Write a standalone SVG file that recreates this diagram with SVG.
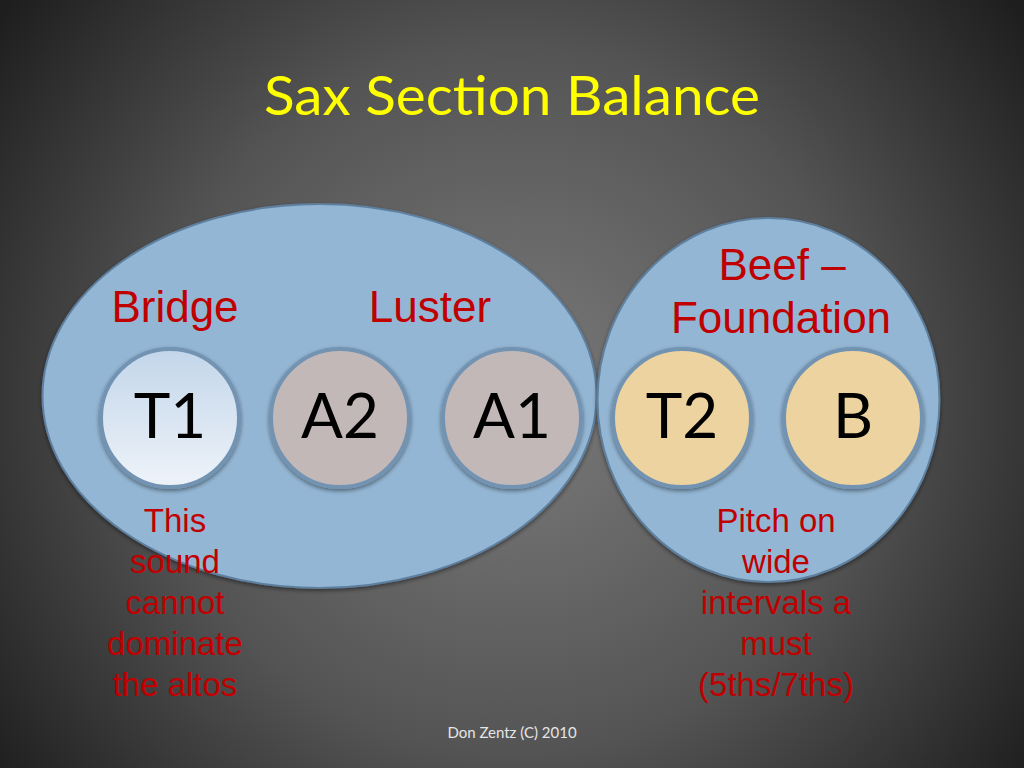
<svg xmlns="http://www.w3.org/2000/svg" width="1024" height="768" viewBox="0 0 1024 768">
  <defs>
    <radialGradient id="bg" cx="512" cy="400" r="640" gradientUnits="userSpaceOnUse">
      <stop offset="0" stop-color="#7b7b7b"/>
      <stop offset="0.55" stop-color="#545454"/>
      <stop offset="1" stop-color="#1e1e1e"/>
    </radialGradient>
    <linearGradient id="t1fill" x1="0" y1="0" x2="0" y2="1">
      <stop offset="0" stop-color="#c3d6ea"/>
      <stop offset="1" stop-color="#eef3f9"/>
    </linearGradient>
    <filter id="sh" x="-20%" y="-20%" width="140%" height="140%">
      <feGaussianBlur in="SourceAlpha" stdDeviation="2"/>
      <feOffset dx="0" dy="2" result="b"/>
      <feComponentTransfer><feFuncA type="linear" slope="0.45"/></feComponentTransfer>
      <feMerge><feMergeNode/><feMergeNode in="SourceGraphic"/></feMerge>
    </filter>
  </defs>
  <style>
    .group { fill: #93b6d4; stroke: #5f7f9e; stroke-width: 2; }
    .sax { stroke: #7393b3; stroke-width: 4; }
    .t1 { fill: url(#t1fill); }
    .alto { fill: #c3b8b8; }
    .low { fill: #ecd39f; }
    .nodelabel { font-family: Lato, "Open Sans", sans-serif; font-size: 62px; fill: #000; text-anchor: middle; }
    .red { font-family: "Liberation Sans", Arial, sans-serif; fill: #c00000; text-anchor: middle; }
    .hdr { font-size: 44px; }
    .note { font-size: 33px; }
  </style>
  <rect width="1024" height="768" fill="url(#bg)"/>
  <text x="512" y="115" font-family="Lato, 'Open Sans', sans-serif" font-size="55" fill="#ffff00" text-anchor="middle" textLength="496" lengthAdjust="spacingAndGlyphs">Sax Section Balance</text>

  <g id="connectors"></g>

  <g id="group-bridge-luster">
    <ellipse class="group" cx="319.5" cy="396" rx="277" ry="192" filter="url(#sh)"/>
    <text class="red hdr" x="175" y="322">Bridge</text>
    <text class="red hdr" x="430" y="322">Luster</text>
  </g>
  <g id="group-foundation">
    <ellipse class="group" cx="768.5" cy="400" rx="171" ry="182" filter="url(#sh)"/>
    <text class="red hdr" x="782" y="280">Beef –</text>
    <text class="red hdr" x="781" y="333">Foundation</text>
  </g>

  <g id="node-t1">
    <circle class="sax t1" cx="170" cy="418" r="69" filter="url(#sh)"/>
    <text class="nodelabel" x="170" y="438">T1</text>
  </g>
  <g id="node-a2">
    <circle class="sax alto" cx="340" cy="418" r="69" filter="url(#sh)"/>
    <text class="nodelabel" x="340" y="438">A2</text>
  </g>
  <g id="node-a1">
    <circle class="sax alto" cx="512" cy="418" r="69" filter="url(#sh)"/>
    <text class="nodelabel" x="512" y="438">A1</text>
  </g>
  <g id="node-t2">
    <circle class="sax low" cx="682" cy="418" r="69" filter="url(#sh)"/>
    <text class="nodelabel" x="682" y="438">T2</text>
  </g>
  <g id="node-b">
    <circle class="sax low" cx="853" cy="418" r="69" filter="url(#sh)"/>
    <text class="nodelabel" x="853" y="438">B</text>
  </g>

  <g id="note-left">
    <text class="red note" x="175" y="532">This</text>
    <text class="red note" x="175" y="573">sound</text>
    <text class="red note" x="175" y="614">cannot</text>
    <text class="red note" x="175" y="655">dominate</text>
    <text class="red note" x="175" y="696">the altos</text>
  </g>
  <g id="note-right">
    <text class="red note" x="776" y="532">Pitch on</text>
    <text class="red note" x="776" y="573">wide</text>
    <text class="red note" x="776" y="614">intervals a</text>
    <text class="red note" x="776" y="655">must</text>
    <text class="red note" x="776" y="696">(5ths/7ths)</text>
  </g>

  <text x="512" y="738" font-family="Lato, 'Open Sans', sans-serif" font-size="15" fill="#e6e6e6" text-anchor="middle">Don Zentz (C) 2010</text>
</svg>
